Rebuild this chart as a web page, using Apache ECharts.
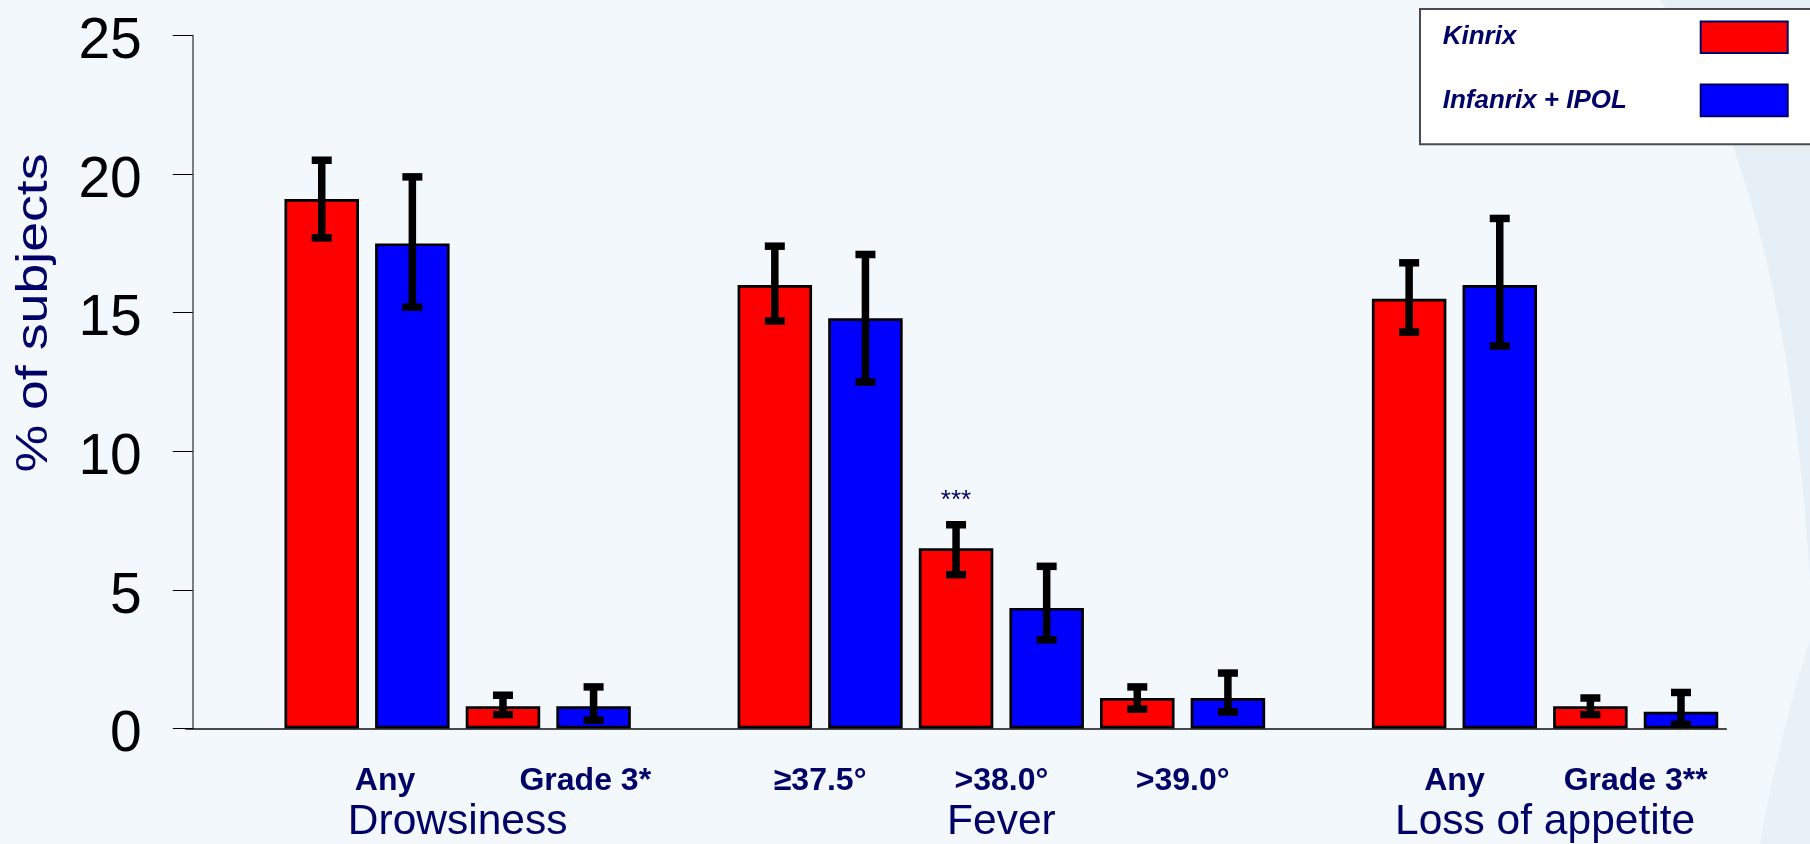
<!DOCTYPE html>
<html>
<head>
<meta charset="utf-8">
<script src="https://cdn.jsdelivr.net/npm/echarts@6/dist/echarts.min.js"></script>
<style>
html,body{margin:0;padding:0;background:#F3F8FC;}
#c{width:1810px;height:844px;}
</style>
</head>
<body>
<div id="c"></div>
<script>
// ---- data ----
const groupNames = ['Drowsiness', 'Fever', 'Loss of appetite'];
const groupSizes = [2, 3, 2];
const subLabels = ['Any', 'Grade 3*', '≥37.5°', '>38.0°', '>39.0°', 'Any', 'Grade 3**'];
const seriesNames = ['Kinrix', 'Infanrix + IPOL'];
const kinrix       = [19.1, 0.8, 16.0, 6.5, 1.1, 15.5, 0.8];
const kinrixLow    = [17.7, 0.5, 14.7, 5.55, 0.7, 14.3, 0.5];
const kinrixHigh   = [20.5, 1.2, 17.4, 7.35, 1.5, 16.8, 1.1];
const infanrix     = [17.5, 0.8, 14.8, 4.35, 1.1, 16.0, 0.6];
const infanrixLow  = [15.2, 0.3, 12.5, 3.2, 0.6, 13.8, 0.15];
const infanrixHigh = [19.9, 1.5, 17.1, 5.85, 2.0, 18.4, 1.3];
const significance = ['', '', '', '***', '', '', ''];
const yTicks = [0, 5, 10, 15, 20, 25];
const yAxisTitle = '% of subjects';

// ---- build slot layout (one slot per bar, one blank slot between groups) ----
const slotCats = [], redData = [], blueData = [], subAt = [], errRed = [], errBlue = [];
const subBoundary = [], groupBoundary = [];
function blank(){ slotCats.push('gap' + slotCats.length); redData.push('-'); blueData.push('-'); subAt.push(-1); }
blank();
let k = 0;
groupSizes.forEach((n, g) => {
  const first = slotCats.length;
  for (let i = 0; i < n; i++, k++) {
    const rs = slotCats.length;
    slotCats.push(subLabels[k] + '|K' + k); redData.push(kinrix[k]); blueData.push('-'); subAt.push(k);
    slotCats.push(subLabels[k] + '|I' + k); redData.push('-'); blueData.push(infanrix[k]); subAt.push(k);
    errRed.push([rs, kinrixLow[k], kinrixHigh[k]]);
    errBlue.push([rs + 1, infanrixLow[k], infanrixHigh[k]]);
    subBoundary[k] = rs + 1;
  }
  groupBoundary[g] = (first + slotCats.length) / 2;
  if (g < groupSizes.length - 1) blank();
});
const nB = slotCats.length + 1;
const subAxisData = [], groupAxisData = [];
for (let i = 0; i < nB; i++) { subAxisData.push(''); groupAxisData.push(''); }
subLabels.forEach((s, i) => { subAxisData[subBoundary[i]] = s; });
groupNames.forEach((s, g) => { groupAxisData[groupBoundary[g]] = s; });

// ---- styles ----
const NAVY = '#000066';
const FONT = "Arial, 'Liberation Sans', Helvetica, sans-serif";

// legend text: left-aligned inside a fixed-width column
const LEG_SIZE = 26;
const LEG_FONT = 'italic bold ' + LEG_SIZE + 'px ' + FONT;
const LEG_COL = 253;
const mctx = document.createElement('canvas').getContext('2d');
mctx.font = LEG_FONT;
const legRich = {};
seriesNames.forEach((nm, i) => {
  const w = mctx.measureText(nm).width;
  legRich['t' + i] = { fontSize: LEG_SIZE, fontWeight: 'bold', fontStyle: 'italic', color: NAVY, fontFamily: FONT,
                       padding: [0, Math.max(0, LEG_COL - w), 0, 0] };
});

// decorative background shapes (quadratic curves sampled into polygons)
function quadShape(p0, c, p1, closing) {
  const pts = [];
  for (let i = 0; i <= 40; i++) {
    const t = i / 40, u = 1 - t;
    pts.push([u * u * p0[0] + 2 * u * t * c[0] + t * t * p1[0], u * u * p0[1] + 2 * u * t * c[1] + t * t * p1[1]]);
  }
  return pts.concat(closing);
}
const bgShape1 = quadShape([1660, 0], [1785, 180], [1810, 580], [[1810, 0]]);
const bgShape2 = quadShape([1810, 640], [1778, 740], [1760, 844], [[1810, 844]]);

const chart = echarts.init(document.getElementById('c'));

function errRender(params, api) {
  const x = api.value(0), lo = api.value(1), hi = api.value(2);
  const pLo = api.coord([x, lo]);
  const pHi = api.coord([x, hi]);
  const capW = 20, capH = 7.5, stem = 7.5;
  return {
    type: 'group',
    children: [
      { type: 'rect', shape: { x: pHi[0] - stem / 2, y: pHi[1], width: stem, height: pLo[1] - pHi[1] }, style: { fill: '#000' } },
      { type: 'rect', shape: { x: pHi[0] - capW / 2, y: pHi[1] - capH / 2, width: capW, height: capH }, style: { fill: '#000' } },
      { type: 'rect', shape: { x: pLo[0] - capW / 2, y: pLo[1] - capH / 2, width: capW, height: capH }, style: { fill: '#000' } }
    ]
  };
}

const subRich = {
  n:  { fontSize: 32, fontWeight: 'bold', color: NAVY, fontFamily: FONT },
  s1: { fontSize: 32, fontWeight: 'bold', color: NAVY, fontFamily: FONT, padding: [0, 0, 0, 36] },
  s2: { fontSize: 32, fontWeight: 'bold', color: NAVY, fontFamily: FONT, padding: [0, 0, 0, 74] }
};

const option = {
  backgroundColor: '#F3F8FC',
  animation: false,
  graphic: [
    { type: 'polygon', z: -10, silent: true, shape: { points: bgShape1 }, style: { fill: '#E6EFF6' } },
    { type: 'polygon', z: -10, silent: true, shape: { points: bgShape2 }, style: { fill: '#E9F1F7' } },
    {
      type: 'text',
      x: 35, y: 313,
      rotation: Math.PI / 2,
      scaleX: 1.22,
      style: { text: yAxisTitle, fill: NAVY, font: '44px ' + FONT, align: 'center', verticalAlign: 'middle' },
      silent: true
    }
  ],
  grid: { left: 185.8, right: 83.7, top: 35.5, bottom: 115.5 },
  legend: {
    data: seriesNames,
    orient: 'vertical',
    left: 1420, top: 9,
    align: 'right',
    selectedMode: false,
    backgroundColor: '#FFFFFF',
    borderColor: '#4a4a4a',
    borderWidth: 2,
    padding: [11.5, 60, 27, 22.7],
    itemGap: 29.5,
    itemWidth: 87, itemHeight: 31.6,
    icon: 'rect',
    itemStyle: { borderColor: NAVY, borderWidth: 2 },
    formatter: name => '{t' + seriesNames.indexOf(name) + '|' + name + '}',
    textStyle: { fontSize: LEG_SIZE, fontWeight: 'bold', fontStyle: 'italic', color: NAVY, fontFamily: FONT, rich: legRich }
  },
  xAxis: [
    {
      type: 'category', data: slotCats, position: 'bottom',
      axisLine: { onZero: false, lineStyle: { color: '#111', width: 1.5 } },
      axisTick: { show: false }, axisLabel: { show: false }, splitLine: { show: false }
    },
    {
      type: 'category', data: subAxisData, boundaryGap: false, position: 'bottom',
      axisLine: { show: false, onZero: false }, axisTick: { show: false }, splitLine: { show: false },
      axisLabel: {
        interval: 0, margin: 53, verticalAlign: 'middle',
        formatter: (v, i) => v === '' ? '' : (i === subBoundary[0] ? '{s1|' + v + '}' : (i === subBoundary[1] ? '{s2|' + v + '}' : '{n|' + v + '}')),
        rich: subRich
      }
    },
    {
      type: 'category', data: groupAxisData, boundaryGap: false, position: 'bottom',
      axisLine: { show: false, onZero: false }, axisTick: { show: false }, splitLine: { show: false },
      axisLabel: { interval: 0, margin: 94, verticalAlign: 'middle', fontSize: 42.5, color: NAVY, fontFamily: FONT }
    }
  ],
  yAxis: {
    type: 'value', min: yTicks[0], max: yTicks[yTicks.length - 1], interval: yTicks[1] - yTicks[0],
    offset: -7,
    axisLine: { show: true, lineStyle: { color: '#555', width: 1.5 } },
    axisTick: { show: true, length: 20, lineStyle: { color: '#000', width: 1 } },
    splitLine: { show: false },
    axisLabel: {
      margin: 51, verticalAlign: 'middle',
      formatter: v => '{v|' + v + '}',
      rich: { v: { fontSize: 57, color: '#000', fontFamily: FONT, padding: [14, 0, 0, 0] } }
    }
  },
  series: [
    {
      name: seriesNames[0], type: 'bar', data: redData, barWidth: 74.5, barGap: '-100%',
      itemStyle: { color: '#FF0000', borderColor: '#000', borderWidth: 2.7 },
      label: {
        show: true, position: 'top', distance: 34,
        formatter: p => (subAt[p.dataIndex] >= 0 ? significance[subAt[p.dataIndex]] : ''),
        color: NAVY, fontSize: 26, fontFamily: FONT
      },
      z: 2
    },
    {
      name: seriesNames[1], type: 'bar', data: blueData, barWidth: 74.5, barGap: '-100%',
      itemStyle: { color: '#0000FF', borderColor: '#000', borderWidth: 2.7 },
      z: 2
    },
    { type: 'custom', data: errRed, renderItem: errRender, encode: { x: 0, y: [1, 2] }, z: 5 },
    { type: 'custom', data: errBlue, renderItem: errRender, encode: { x: 0, y: [1, 2] }, z: 5 }
  ]
};
chart.setOption(option);
</script>
</body>
</html>
